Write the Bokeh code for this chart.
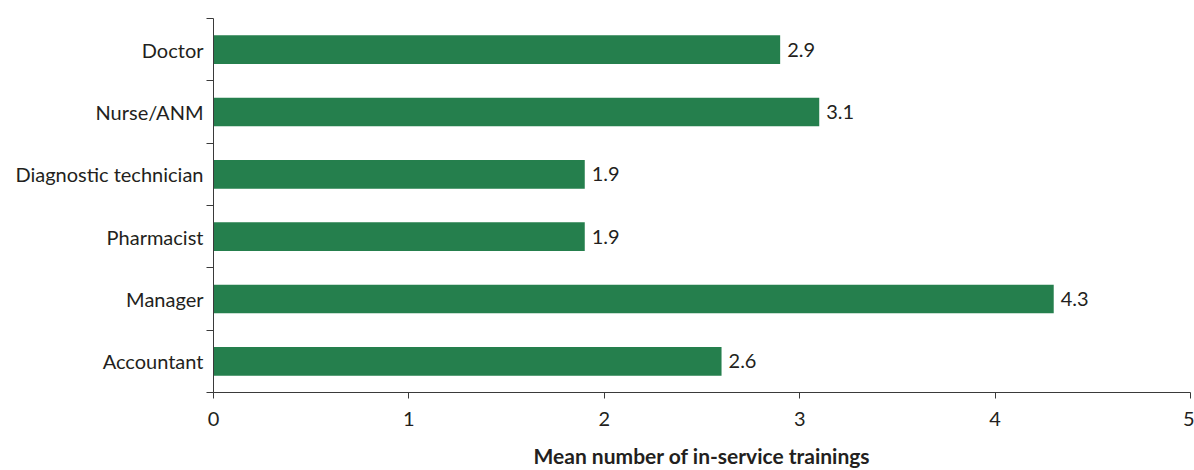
from bokeh.plotting import figure
from bokeh.models import ColumnDataSource, FixedTicker, Range1d, LabelSet
from bokeh.core.properties import value
from bokeh.embed import file_html
from bokeh.resources import INLINE

categories = ["Doctor", "Nurse/ANM", "Diagnostic technician", "Pharmacist", "Manager", "Accountant"]
values = [2.9, 3.1, 1.9, 1.9, 4.3, 2.6]
x_ticks = [0, 1, 2, 3, 4, 5]
x_label = "Mean number of in-service trainings"

n = len(categories)
ypos = [n - i - 0.5 for i in range(n)]
src = ColumnDataSource(dict(y=ypos, v=values, cat=categories,
                            lab=[f"{v:.1f}" for v in values]))

FONT = "Lato"
FS = "20px"
TXT = "#231F20"
GREEN = "#257F4D"

p = figure(width=1194, height=470, output_backend="svg", toolbar_location=None,
           x_range=Range1d(0, 5), y_range=Range1d(0, n),
           min_border_left=213, min_border_right=4, min_border_top=18, min_border_bottom=78)
p.outline_line_color = None
p.xgrid.visible = False
p.ygrid.visible = False
p.background_fill_color = "white"
p.border_fill_color = "white"

p.hbar(y="y", right="v", left=0, height=0.46, source=src, color=GREEN, line_color=None)

labels = LabelSet(x="v", y="y", text="lab", source=src, x_offset=7, text_baseline="middle",
                  text_font=value(FONT), text_font_size=FS, text_color=TXT)
p.add_layout(labels)

xa = p.xaxis[0]
xa.ticker = FixedTicker(ticks=x_ticks)
xa.axis_line_color = "#3a3a3a"
xa.major_tick_line_color = "#3a3a3a"
xa.major_tick_out = 6
xa.major_tick_in = 0
xa.minor_tick_line_color = None
xa.major_label_text_font = FONT
xa.major_label_text_font_size = FS
xa.major_label_text_color = TXT
xa.major_label_standoff = 13
xa.axis_label = x_label
xa.axis_label_text_font = FONT
xa.axis_label_text_font_style = "bold"
xa.axis_label_text_font_size = "21px"
xa.axis_label_text_color = TXT
xa.axis_label_standoff = 14

ya = p.yaxis[0]
ya.ticker = FixedTicker(ticks=ypos, minor_ticks=list(range(n + 1)))
ya.major_label_overrides = {y: c for y, c in zip(ypos, categories)}
ya.axis_line_color = "#3a3a3a"
ya.major_tick_line_color = None
ya.major_tick_out = 0
ya.major_tick_in = 0
ya.minor_tick_line_color = "#3a3a3a"
ya.minor_tick_out = 7
ya.minor_tick_in = 0
ya.major_label_text_font = FONT
ya.major_label_text_font_size = FS
ya.major_label_text_color = TXT
ya.major_label_standoff = 3

open("out.html", "w").write(file_html(p, INLINE))
